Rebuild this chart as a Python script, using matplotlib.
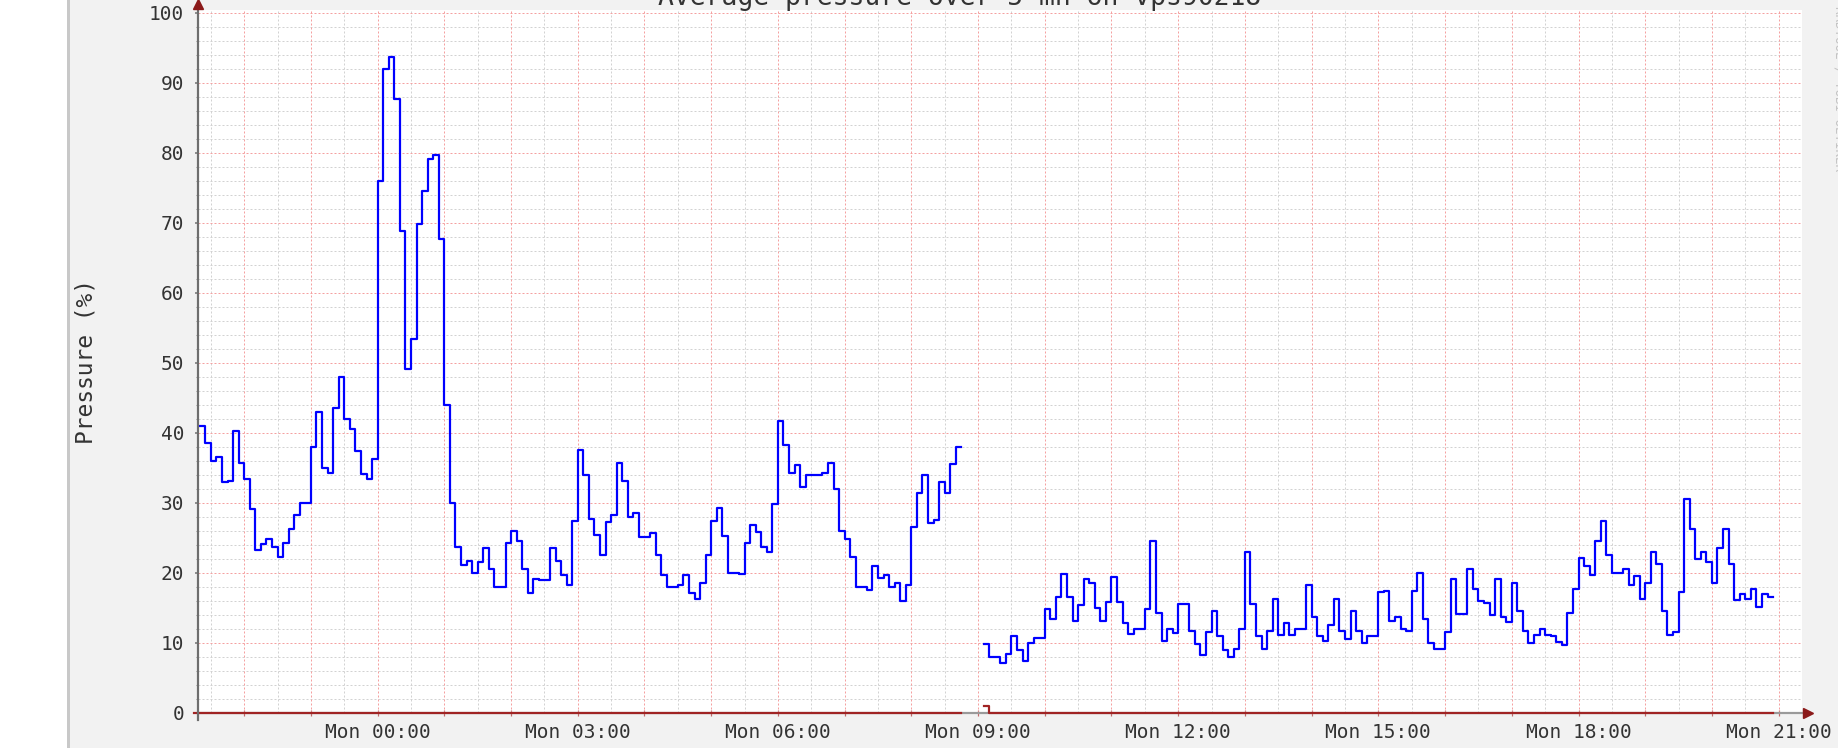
import numpy as np
import matplotlib as mpl
mpl.use('Agg')
import matplotlib.pyplot as plt
from matplotlib.patches import Rectangle

mpl.rcParams['font.family'] = 'DejaVu Sans Mono'

# 5 minute averages, time in minutes relative to Mon 00:00
step_min = 5
sun_start = -165   # Sun 21:15

# Sun 21:15 -> 23:55
sun_evening = [40.9, 40.9, 38.6, 36.0, 36.6, 32.9, 33.1, 40.2, 35.7, 33.4, 29.1, 23.2,
               24.1, 24.8, 23.7, 22.3, 24.3, 26.2, 28.2, 30.0, 30.0, 38.0, 42.9, 34.9,
               34.2, 43.6, 47.9, 42.0, 40.6, 37.4, 34.1, 33.4, 36.2]

# Mon 00:00 -> 08:40
mon_night = [76.0, 92.0, 93.7, 87.7, 68.8, 49.1, 53.4, 69.8, 74.5, 79.1, 79.7, 67.7,
             44.0, 30.0, 23.7, 21.1, 21.7, 20.0, 21.5, 23.6, 20.6, 18.0, 18.0, 24.3,
             26.0, 24.6, 20.6, 17.1, 19.1, 18.9, 18.9, 23.6, 21.7, 19.7, 18.2, 27.4,
             37.6, 34.0, 27.7, 25.4, 22.5, 27.2, 28.3, 35.7, 33.1, 28.0, 28.6, 25.1,
             25.1, 25.7, 22.5, 19.7, 18.0, 18.0, 18.2, 19.7, 17.1, 16.2, 18.6, 22.5,
             27.4, 29.3, 25.2, 20.0, 20.0, 19.8, 24.3, 26.8, 25.8, 23.7, 22.9, 29.8,
             41.7, 38.2, 34.2, 35.4, 32.3, 33.9, 33.9, 33.9, 34.2, 35.7, 31.9, 26.0,
             24.8, 22.3, 18.0, 18.0, 17.5, 20.9, 19.2, 19.7, 18.0, 18.6, 15.9, 18.3,
             26.6, 31.4, 33.9, 27.1, 27.6, 32.9, 31.4, 35.5, 38.0]

gap_slots = 4   # 08:45 -> 09:00 unknown

# Mon 09:05 -> 20:50
mon_day = [9.8, 8.0, 8.0, 7.1, 8.4, 10.9, 9.0, 7.4, 10.0, 10.7, 10.7,
           14.8, 13.4, 16.6, 19.8, 16.6, 13.1, 15.4, 19.1, 18.6, 14.9, 13.1, 15.8,
           19.4, 15.8, 12.8, 11.2, 11.9, 11.9, 14.8, 24.6, 14.3, 10.2, 11.9, 11.4,
           15.5, 15.5, 11.7, 9.8, 8.2, 11.5, 14.5, 10.9, 9.0, 8.0, 9.1, 12.0,
           22.9, 15.5, 10.9, 9.1, 11.7, 16.2, 11.1, 12.8, 11.1, 12.0, 12.0, 18.3,
           13.7, 10.9, 10.2, 12.5, 16.2, 11.7, 10.5, 14.5, 11.7, 10.0, 10.9, 10.9,
           17.2, 17.4, 13.1, 13.7, 12.0, 11.7, 17.4, 20.0, 13.4, 10.0, 9.1, 9.1,
           11.5, 19.1, 14.1, 14.1, 20.5, 17.7, 16.0, 15.7, 14.0, 19.1, 13.7, 12.9,
           18.6, 14.5, 11.7, 10.0, 11.1, 12.0, 11.1, 10.9, 10.1, 9.7, 14.3, 17.7,
           22.1, 20.9, 19.7, 24.6, 27.4, 22.5, 20.0, 20.0, 20.5, 18.3, 19.5, 16.2,
           18.6, 22.9, 21.2, 14.5, 11.1, 11.5, 17.2, 30.5, 26.3, 22.0, 22.9, 21.5,
           18.6, 23.5, 26.3, 21.2, 16.1, 16.9, 16.2, 17.7, 15.1, 16.9, 16.6]

restart_level = 0.9   # small red flag on the first sample after the gap

label_times = [0, 180, 360, 540, 720, 900, 1080, 1260]
tick_labels = ['Mon 00:00', 'Mon 03:00', 'Mon 06:00', 'Mon 09:00',
               'Mon 12:00', 'Mon 15:00', 'Mon 18:00', 'Mon 21:00']
y_ticks = [0, 10, 20, 30, 40, 50, 60, 70, 80, 90, 100]

title = 'Average pressure over 5 mn on vps90218'
ylabel = 'Pressure (%)'

##### build the series #####
vals = np.array(sun_evening + mon_night + [np.nan] * gap_slots + mon_day)
t = sun_start + step_min * np.arange(len(vals) + 1)
y = np.append(vals, vals[-1])

zero = np.where(np.isnan(vals), np.nan, 0.0)
zero[len(sun_evening) + len(mon_night) + gap_slots] = restart_level
zero = np.append(zero, zero[-1])

##### figure #####
W, H = 1838, 748
px = 0.72  # one pixel in points
fig = plt.figure(figsize=(W / 100, H / 100), dpi=100, facecolor='#f2f2f2')
fig.patches.append(Rectangle((0, 0), 67 / W, 1, transform=fig.transFigure,
                             facecolor='white', edgecolor='none', zorder=0))
fig.patches.append(Rectangle((67 / W, 0), 3 / W, 1, transform=fig.transFigure,
                             facecolor='#c8c8c8', edgecolor='none', zorder=0))

x0, x1 = 197.5, 1802
ytop, ybot = 10, 712.7
ax = fig.add_axes([x0 / W, (H - ybot) / H, (x1 - x0) / W, (ybot - ytop) / H])
ax.set_facecolor('white')
xmin, xmax = -162, 1281
ymax = 100 + 2.7 / 7
ax.set_xlim(xmin, xmax)
ax.set_ylim(0, ymax)
for s in ax.spines.values():
    s.set_visible(False)

# grid: minor grey, major red, both dotted
dots = (0, (2, 2))
minor_x = np.arange(-150, xmax, 60)
major_x = np.arange(-120, xmax, 60)
minor_y = [v for v in range(2, 101, 2) if v % 10]
major_y = y_ticks[1:]
ax.vlines(minor_x, 0, ymax, colors='#d2d2d2', linestyles=[dots], lw=px, zorder=1)
ax.hlines(minor_y, xmin, xmax, colors='#d2d2d2', linestyles=[dots], lw=px, zorder=1)
ax.vlines(major_x, 0, ymax, colors='#f5a0a0', linestyles=[dots], lw=px, zorder=2)
ax.hlines(major_y, xmin, xmax, colors='#f5a0a0', linestyles=[dots], lw=px, zorder=2)

# data
ax.step(t, y, where='post', color='#0000ff', lw=2.2 * px, zorder=5)

# axes in rrdtool style
ax.plot([xmin, xmax], [0, 0], color='#9a9a9a', lw=2.2 * px, clip_on=False, zorder=6)
ax.step(t, zero, where='post', color='#a02424', lw=2.2 * px, clip_on=False, zorder=7)
ax.plot([xmin, xmin], [-1.0, ymax + 0.6], color='#6e6e6e', lw=2.2 * px,
        clip_on=False, zorder=8)
ax.plot([xmin], [101.3], marker='^', ms=6.5, color='#8b1a1a', clip_on=False, zorder=9)
ax.plot([1286], [0], marker='>', ms=6.5, color='#8b1a1a', clip_on=False, zorder=9)

# ticks
ax.set_yticks(y_ticks)
ax.set_yticks(minor_y, minor=True)
ax.set_xticks(label_times)
ax.set_xticklabels(tick_labels)
ax.set_xticks([m for m in major_x if m not in label_times], minor=True)
ax.tick_params(axis='y', which='major', direction='out', length=3 * px, width=1.5 * px,
               color='#707070', pad=7.5, labelsize=14, labelcolor='#333333')
ax.tick_params(axis='y', which='minor', direction='out', length=2 * px, width=1 * px,
               color='#909090')
ax.tick_params(axis='x', which='both', direction='inout', length=6 * px, width=1.2 * px,
               color='#c06a6a', pad=5.3, labelsize=14, labelcolor='#333333')

fig.text(85.6 / W, 1 - 362 / H, ylabel, rotation=90, ha='center', va='center',
         fontsize=16.5, color='#333333')
fig.text(960 / W, 1 - 5 / H, title, ha='center', va='baseline', fontsize=19,
         color='#333333')
fig.text(1833 / W, 1 - 6 / H, 'RRDTOOL / TOBI OETIKER', rotation=-90, ha='left',
         va='top', fontsize=9, color='#c4c4c4')

fig.savefig('out.png', dpi=100, facecolor=fig.get_facecolor())
